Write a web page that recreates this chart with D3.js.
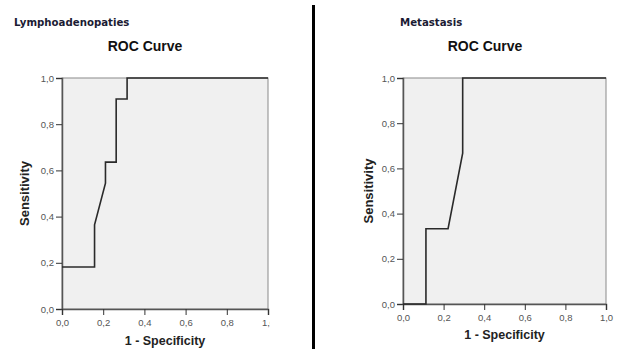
<!DOCTYPE html>
<html>
<head>
<meta charset="utf-8">
<script src="https://cdn.jsdelivr.net/npm/d3@7"></script>
<style>
  body { margin: 0; background: #fff; }
  svg { display: block; }
</style>
</head>
<body>
<svg width="617" height="349"></svg>
<script>
// ROC data (1 - specificity, sensitivity)
const panelNames = ["Lymphoadenopaties", "Metastasis"];
const lymphFpr = [0, 0.158, 0.158, 0.211, 0.211, 0.263, 0.263, 0.316, 0.316, 1];
const lymphTpr = [0.182, 0.182, 0.364, 0.545, 0.636, 0.636, 0.909, 0.909, 1, 1];
const metaFpr = [0, 0.113, 0.113, 0.222, 0.294, 0.294, 1];
const metaTpr = [0, 0, 0.333, 0.333, 0.667, 1, 1];
const tickValues = [0, 0.2, 0.4, 0.6, 0.8, 1.0];
const tickLabels = ["0,0", "0,2", "0,4", "0,6", "0,8", "1,0"];

const svg = d3.select("svg");

// clip for the left panel, its last x label is cut in the original
svg.append("defs").append("clipPath").attr("id", "leftClip")
  .append("rect").attr("x", 0).attr("y", 0).attr("width", 270).attr("height", 349);

// divider between the two screenshots
svg.append("line")
  .attr("x1", 313.5).attr("x2", 313.5).attr("y1", 5).attr("y2", 349)
  .attr("stroke", "#000").attr("stroke-width", 3);

const panels = [
  { name: panelNames[0], fpr: lymphFpr, tpr: lymphTpr, x0: 62, x1: 268, y0: 78, y1: 309,
    nameX: 14, titleX: 145, ylabX: 29, xlabY: 345, clip: true },
  { name: panelNames[1], fpr: metaFpr, tpr: metaTpr, x0: 403, x1: 606, y0: 78, y1: 304,
    nameX: 400, titleX: 485, ylabX: 373, xlabY: 339, clip: false }
];

panels.forEach(p => {
  const g = svg.append("g");
  if (p.clip) g.attr("clip-path", "url(#leftClip)");

  const x = d3.scaleLinear().domain([0, 1]).range([p.x0, p.x1]);
  const y = d3.scaleLinear().domain([0, 1]).range([p.y1, p.y0]);

  g.append("text")
    .attr("x", p.nameX).attr("y", 26)
    .attr("font-family", "Verdana, 'DejaVu Sans', sans-serif")
    .attr("font-size", 10.2).attr("font-weight", "bold").attr("fill", "#1b1b33")
    .text(p.name);

  g.append("text")
    .attr("x", p.titleX).attr("y", 51).attr("text-anchor", "middle")
    .attr("font-family", "'Liberation Sans', Arial, sans-serif")
    .attr("font-size", 14).attr("font-weight", "bold").attr("fill", "#111")
    .text("ROC Curve");

  // plot background
  g.append("rect")
    .attr("x", p.x0).attr("y", p.y0)
    .attr("width", p.x1 - p.x0).attr("height", p.y1 - p.y0)
    .attr("fill", "#f0f0f0").attr("stroke", "#8a8a8a").attr("stroke-width", 1);

  const fmt = d => tickLabels[tickValues.findIndex(v => Math.abs(v - d) < 1e-9)];

  const yAxis = g.append("g")
    .attr("transform", `translate(${p.x0},0)`)
    .call(d3.axisLeft(y).tickValues(tickValues).tickFormat(fmt).tickSize(6).tickPadding(2));
  const xAxis = g.append("g")
    .attr("transform", `translate(0,${p.y1})`)
    .call(d3.axisBottom(x).tickValues(tickValues).tickFormat(fmt).tickSize(6).tickPadding(4));

  [yAxis, xAxis].forEach(a => {
    a.select(".domain").attr("stroke", "#555").attr("stroke-width", 1.5);
    a.selectAll(".tick line").attr("stroke", "#333");
    a.selectAll(".tick text")
      .attr("font-family", "'Liberation Sans', Arial, sans-serif")
      .attr("font-size", 9.5).attr("fill", "#555");
  });

  // the ROC curve
  const pts = p.fpr.map((f, i) => [f, p.tpr[i]]);
  g.append("path")
    .datum(pts)
    .attr("d", d3.line().x(d => x(d[0])).y(d => y(d[1])))
    .attr("fill", "none").attr("stroke", "#2a2a2a").attr("stroke-width", 1.6);

  g.append("text")
    .attr("transform", `translate(${p.ylabX},${(p.y0 + p.y1) / 2}) rotate(-90)`)
    .attr("text-anchor", "middle")
    .attr("font-family", "'Liberation Sans', Arial, sans-serif")
    .attr("font-size", 13).attr("font-weight", "bold").attr("fill", "#222")
    .text("Sensitivity");

  g.append("text")
    .attr("x", (p.x0 + p.x1) / 2).attr("y", p.xlabY).attr("text-anchor", "middle")
    .attr("font-family", "'Liberation Sans', Arial, sans-serif")
    .attr("font-size", 12.5).attr("font-weight", "bold").attr("fill", "#222")
    .text("1 - Specificity");
});
</script>
</body>
</html>
